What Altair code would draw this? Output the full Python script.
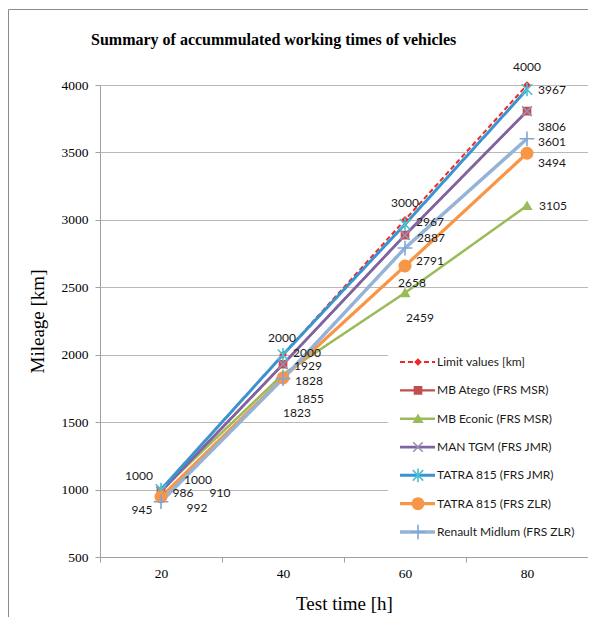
import altair as alt
import pandas as pd

# ---------------- data ----------------
chart_title = "Summary of accummulated working times of vehicles"
hours = [20, 40, 60, 80]
series_names = [
    "Limit values [km]",
    "MB Atego (FRS MSR)",
    "MB Econic (FRS MSR)",
    "MAN TGM (FRS JMR)",
    "TATRA 815 (FRS JMR)",
    "TATRA 815 (FRS ZLR)",
    "Renault Midlum (FRS ZLR)",
]
limit_values = [1000, 2000, 3000, 4000]
mb_atego = [986, 1929, 2887, 3806]
mb_econic = [992, 1855, 2459, 3105]
man_tgm = [986, 1929, 2887, 3806]
tatra_jmr = [1000, 2000, 2967, 3967]
tatra_zlr = [945, 1828, 2658, 3494]
renault_midlum = [910, 1823, 2791, 3601]
y_ticks = [500, 1000, 1500, 2000, 2500, 3000, 3500, 4000]

values_by_series = [limit_values, mb_atego, mb_econic, man_tgm,
                    tatra_jmr, tatra_zlr, renault_midlum]

# ---------------- layout / styles ----------------
PLOT_W, PLOT_H = 488, 472
Y_MIN, Y_MAX = 500, 4000
HALF_BAND = PLOT_W / len(hours) / 2
KM_PER_PX = (Y_MAX - Y_MIN) / PLOT_H

line_colors = ["#F0282A", "#C0504D", "#9BBB59", "#8064A2", "#3B94D0", "#F79646", "#95B3D7"]
line_widths = [2, 3.5, 2.5, 3, 2, 2.5, 2.5]
line_dashes = [[5, 3], [1, 0], [1, 0], [1, 0], [1, 0], [1, 0], [1, 0]]
X_PATH = "M-1,-1L1,1M-1,1L1,-1"
STAR_PATH = "M-1,-1L1,1M-1,1L1,-1M0,-1.3L0,1.3"
PLUS_PATH = "M-1.2,0L1.2,0M0,-1.2L0,1.2"
marker_shapes = ["diamond", "square", "triangle-up", X_PATH, STAR_PATH, "circle", PLUS_PATH]
marker_fills = ["#F0282A", "#C0504D", "#9BBB59", "transparent", "transparent", "#F79646", "transparent"]
marker_strokes = ["#F0282A", "#C0504D", "#9BBB59", "#9C8AB8", "#4BC0D0", "#F79646", "#7FA6D6"]
marker_sizes = [30, 150, 140, 80, 60, 140, 70]

# data-label placement (pixel shifts relative to each point);
# MAN TGM labels coincide with MB Atego labels in the original, so only one is drawn
label_shift = {
    "Limit values [km]": [(-22, -14), (-1, -17), (0, -17), (0, -18)],
    "MB Atego (FRS MSR)": [(22, 2), (25, 2), (26, 3), (25, 16)],
    "MB Econic (FRS MSR)": [(36, 17), (27, 25), (15, 25), (26, 0)],
    "MAN TGM (FRS JMR)": [(22, 2), (25, 2), (26, 3), (25, 16)],
    "TATRA 815 (FRS JMR)": [(37, -10), (24, -2), (25, -2), (25, 1)],
    "TATRA 815 (FRS ZLR)": [(-19, 13), (26, 3), (7, 17), (25, 10)],
    "Renault Midlum (FRS ZLR)": [(59, -9), (14, 34), (25, 13), (25, 3)],
}

rows = []
for name, vals in zip(series_names, values_by_series):
    for i, (h, v) in enumerate(zip(hours, vals)):
        dx, dy = label_shift[name][i]
        rows.append({"series": name, "hours": str(h), "mileage": v, "dx": dx, "dy": dy})
df = pd.DataFrame(rows)
legend_df = pd.DataFrame({"series": series_names})
title_df = pd.DataFrame({"t": [chart_title]})

SERIF = "Liberation Serif"
SANS = "Lato"
hour_labels = [str(h) for h in hours]

x_scale = alt.Scale(type="band", domain=hour_labels, paddingInner=0, paddingOuter=0)
y_scale = alt.Scale(domain=[Y_MIN, Y_MAX], nice=False, zero=False)

x_enc = alt.X("hours:O", sort=hour_labels, scale=x_scale, bandPosition=0.5,
              axis=alt.Axis(title="Test time [h]", tickBand="extent", labelAngle=0, grid=False,
                            tickSize=5, labelPadding=4, titlePadding=15,
                            labelFont=SERIF, labelFontSize=13.5, labelColor="black",
                            titleFont=SERIF, titleFontSize=19, titleFontWeight="normal",
                            titleColor="black", domainColor="#A0A0A0", tickColor="#A0A0A0"))
y_enc = alt.Y("mileage:Q", scale=y_scale,
              axis=alt.Axis(title="Mileage [km]", values=y_ticks, format="d", tickSize=5,
                            labelPadding=7, titlePadding=14, labelFont=SERIF,
                            labelFontSize=13.5, labelColor="black", titleFont=SERIF,
                            titleFontSize=19, titleFontWeight="normal", titleColor="black",
                            domainColor="#A0A0A0", tickColor="#A0A0A0",
                            gridColor="#B8B8B8", grid=True))

color_scale = alt.Scale(domain=series_names, range=line_colors)
width_scale = alt.Scale(domain=series_names, range=line_widths)
dash_scale = alt.Scale(domain=series_names, range=line_dashes)

lines = alt.Chart(df).mark_line().encode(
    x=x_enc, y=y_enc,
    color=alt.Color("series:N", scale=color_scale, legend=None),
    strokeWidth=alt.StrokeWidth("series:N", scale=width_scale, legend=None),
    strokeDash=alt.StrokeDash("series:N", scale=dash_scale, legend=None),
)

point_enc = dict(
    shape=alt.Shape("series:N", scale=alt.Scale(domain=series_names, range=marker_shapes), legend=None),
    fill=alt.Fill("series:N", scale=alt.Scale(domain=series_names, range=marker_fills), legend=None),
    stroke=alt.Stroke("series:N", scale=alt.Scale(domain=series_names, range=marker_strokes), legend=None),
    size=alt.Size("series:N", scale=alt.Scale(domain=series_names, range=marker_sizes), legend=None),
)

points = alt.Chart(df).mark_point(opacity=1, strokeWidth=1.6).encode(
    x=x_enc, y=y_enc, **point_enc)

labels = alt.Chart(df).transform_filter(
    alt.datum.series != "MAN TGM (FRS JMR)"
).transform_calculate(
    label_y=f"datum.mileage - datum.dy * {KM_PER_PX}",
    label_dx=f"datum.dx + {HALF_BAND}",
).mark_text(font=SANS, fontSize=12, color="#1a1a1a", align="center", baseline="middle").encode(
    x=x_enc,
    y=alt.Y("label_y:Q", scale=y_scale),
    xOffset=alt.XOffset("label_dx:Q", scale=None),
    text="mileage:Q",
)

main = alt.layer(lines, points, labels)

# ---------------- legend (inside plot), title, frame ----------------
leg_y = alt.Y("series:N", scale=alt.Scale(type="point", domain=series_names, range=[277, 447], padding=0),
              axis=None)
leg_bg = alt.Chart(legend_df).mark_rect(fill="white").encode(
    x=alt.value(288), x2=alt.value(488), y=alt.value(258), y2=alt.value(465))
leg_lines = alt.Chart(legend_df).mark_rule().encode(
    x=alt.value(300), x2=alt.value(335), y=leg_y,
    color=alt.Color("series:N", scale=color_scale, legend=None),
    strokeWidth=alt.StrokeWidth("series:N", scale=width_scale, legend=None),
    strokeDash=alt.StrokeDash("series:N", scale=dash_scale, legend=None),
)
leg_points = alt.Chart(legend_df).mark_point(opacity=1, strokeWidth=1.6).encode(
    x=alt.value(318), y=leg_y, **point_enc)
leg_text = alt.Chart(legend_df).mark_text(font=SANS, fontSize=12, color="#1a1a1a",
                                          align="left", baseline="middle").encode(
    x=alt.value(337), y=leg_y, text="series:N")

title_mark = alt.Chart(title_df).mark_text(font=SERIF, fontSize=16, fontWeight="bold",
                                           color="black", align="left",
                                           baseline="alphabetic").encode(
    x=alt.value(-9), y=alt.value(-40), text="t:N")

border = alt.Chart(title_df).mark_rect(fill="transparent", stroke="#8C8C8C", strokeWidth=1).encode(
    x=alt.value(-91.5), x2=alt.value(540), y=alt.value(-75.5), y2=alt.value(600))

legend_layer = alt.layer(leg_bg, leg_lines, leg_points, leg_text, title_mark, border)

chart = alt.layer(main, legend_layer).resolve_scale(y="independent").properties(
    width=PLOT_W, height=PLOT_H,
    autosize=alt.AutoSizeParams(type="none"),
    padding={"left": 92, "top": 77, "right": 0, "bottom": 60},
).configure_view(stroke=None).configure(background="white")

chart.save("out.html", embed_options={"renderer": "svg", "actions": False})
